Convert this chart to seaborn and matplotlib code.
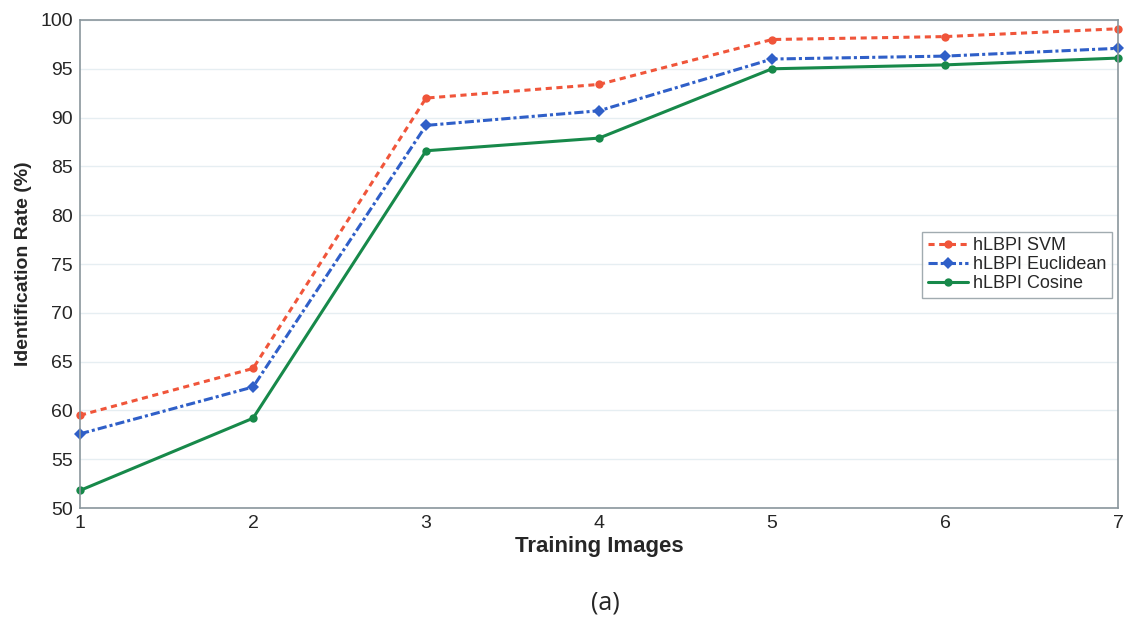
import pandas as pd
import matplotlib
matplotlib.use("Agg")
import matplotlib.pyplot as plt
import seaborn as sns

# Dados
imagens = [1, 2, 3, 4, 5, 6, 7]
svm = [59.5, 64.3, 92.0, 93.4, 98.0, 98.3, 99.1]
euclidean = [57.6, 62.4, 89.2, 90.7, 96.0, 96.3, 97.1]
cosine = [51.8, 59.2, 86.6, 87.9, 95.0, 95.4, 96.1]
series = ["hLBPI SVM", "hLBPI Euclidean", "hLBPI Cosine"]
yticks = [50, 55, 60, 65, 70, 75, 80, 85, 90, 95, 100]

df = pd.DataFrame({
    "Training Images": imagens * 3,
    "rate": svm + euclidean + cosine,
    "metodo": [series[0]] * 7 + [series[1]] * 7 + [series[2]] * 7,
})

sns.set_style("white")
plt.rcParams['font.family'] = ['Liberation Sans', 'DejaVu Sans']

fig = plt.figure(figsize=(11.24, 6.19), dpi=100)
ax = fig.add_axes([0.0712, 0.1793, 0.9235, 0.7884])

cores = {series[0]: "#f0553a", series[1]: "#2f5fc8", series[2]: "#17894a"}
tracos = {series[0]: (2, 1.5), series[1]: (3, 1, 1, 1), series[2]: ""}
marcadores = {series[0]: "o", series[1]: "D", series[2]: "o"}

sns.lineplot(data=df, x="Training Images", y="rate", hue="metodo", style="metodo",
             palette=cores, dashes=tracos, markers=marcadores, markersize=6,
             markeredgewidth=0, linewidth=2.2, ax=ax)
for ln in ax.lines:
    ln.set_clip_on(False)

ax.set_xlim(1, 7)
ax.set_ylim(50, 100)
ax.set_xticks(imagens)
ax.set_yticks(yticks)
ax.tick_params(direction="in", length=5, labelsize=14, color="#7f8c94", pad=5)
ax.yaxis.grid(True, color="#e6eef2", linewidth=1)
for s in ax.spines.values():
    s.set_color("#8a969c")
    s.set_linewidth(1.2)

ax.set_xlabel("Training Images", fontsize=16, fontweight="bold", labelpad=3)
ax.set_ylabel("Identification Rate (%)", fontsize=14, fontweight="bold", labelpad=6)

leg = ax.legend(loc="upper right", bbox_to_anchor=(0.9975, 0.574), fontsize=13,
                frameon=True, fancybox=False, borderpad=0.3, handlelength=2.2,
                handletextpad=0.3, labelspacing=0.12, borderaxespad=0.2)
leg.get_frame().set_edgecolor("#8a969c")
leg.get_frame().set_linewidth(1.0)

fig.text(0.539, 0.015, "(a)", fontsize=18, family=["Open Sans", "DejaVu Sans"], ha="center")

fig.savefig("out.png", dpi=100)
